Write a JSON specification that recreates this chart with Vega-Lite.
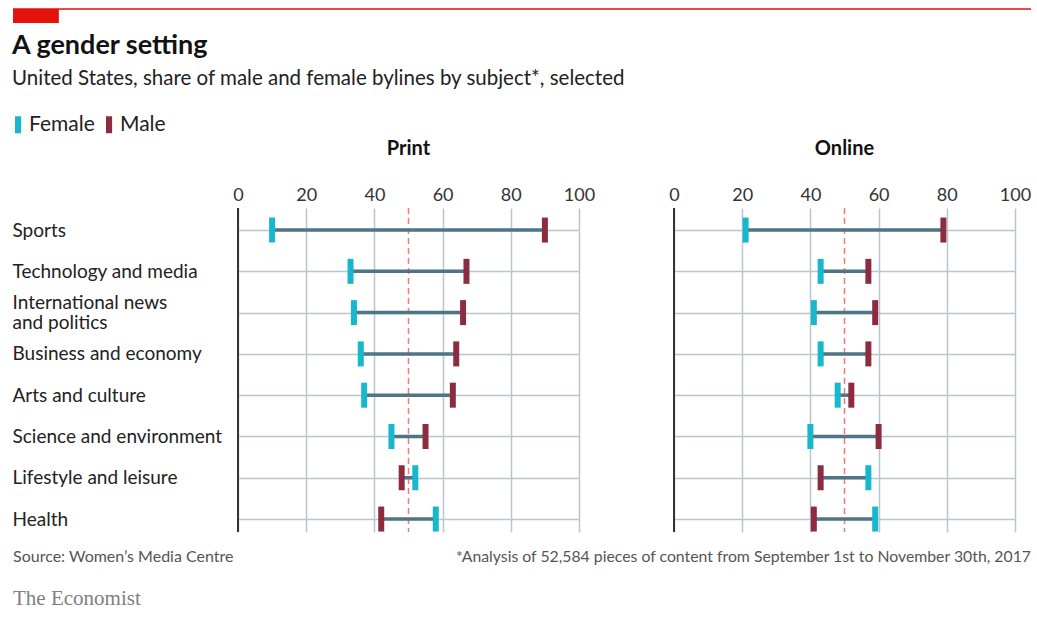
{
  "$schema": "https://vega.github.io/schema/vega-lite/v6.json",
  "background": "white",
  "padding": {"left": 12, "top": 8, "right": 7, "bottom": 5},
  "spacing": 8,
  "config": {
    "view": {"stroke": null},
    "font": "Lato",
    "axisX": {"domain": false, "ticks": false, "labelFontSize": 18, "labelColor": "#333333", "labelFont": "Lato", "labelPadding": 3, "labelFlush": false, "grid": true, "gridColor": "#b6c7d1", "gridWidth": 1.5},
    "axisY": {"domain": false, "ticks": false, "labelFontSize": 19, "labelColor": "#222222", "labelFont": "Lato", "labelAlign": "left", "labelPadding": 225, "labelLimit": 0, "labelLineHeight": 20, "grid": true, "gridColor": "#b6c7d1", "gridWidth": 1.5}
  },
  "vconcat": [
    {
      "width": 793,
      "height": 14,
      "data": {"values": [{}]},
      "layer": [
        {
          "mark": {"type": "rect", "color": "#e3120b"},
          "encoding": {
            "x": {"datum": 0, "type": "quantitative", "scale": {"domain": [22.1, 100], "nice": false, "zero": false}, "axis": null},
            "x2": {"datum": 4.5},
            "y": {"datum": 0, "type": "quantitative", "scale": {"domain": [0, 1]}, "axis": null},
            "y2": {"datum": 1}
          }
        },
        {
          "mark": {"type": "rule", "color": "#e3120b", "strokeWidth": 1.5},
          "encoding": {
            "x": {"datum": 0, "type": "quantitative"},
            "x2": {"datum": 100},
            "y": {"datum": 1, "type": "quantitative"}
          }
        }
      ]
    },
    {
      "title": {
        "text": "A gender setting",
        "subtitle": "United States, share of male and female bylines by subject*, selected",
        "anchor": "start",
        "frame": "bounds",
        "font": "Lato",
        "fontSize": 27,
        "fontWeight": "bold",
        "color": "#121212",
        "subtitleFont": "Lato",
        "subtitleFontSize": 20.5,
        "subtitleColor": "#222222",
        "subtitlePadding": 9,
        "offset": 49
      },
      "data": {
        "values": [
          {"medium": "Print", "subject": "Sports", "Female": 10, "Male": 90},
          {"medium": "Print", "subject": "Technology and media", "Female": 33, "Male": 67},
          {"medium": "Print", "subject": "International news and politics", "Female": 34, "Male": 66},
          {"medium": "Print", "subject": "Business and economy", "Female": 36, "Male": 64},
          {"medium": "Print", "subject": "Arts and culture", "Female": 37, "Male": 63},
          {"medium": "Print", "subject": "Science and environment", "Female": 45, "Male": 55},
          {"medium": "Print", "subject": "Lifestyle and leisure", "Female": 52, "Male": 48},
          {"medium": "Print", "subject": "Health", "Female": 58, "Male": 42},
          {"medium": "Online", "subject": "Sports", "Female": 21, "Male": 79},
          {"medium": "Online", "subject": "Technology and media", "Female": 43, "Male": 57},
          {"medium": "Online", "subject": "International news and politics", "Female": 41, "Male": 59},
          {"medium": "Online", "subject": "Business and economy", "Female": 43, "Male": 57},
          {"medium": "Online", "subject": "Arts and culture", "Female": 48, "Male": 52},
          {"medium": "Online", "subject": "Science and environment", "Female": 40, "Male": 60},
          {"medium": "Online", "subject": "Lifestyle and leisure", "Female": 57, "Male": 43},
          {"medium": "Online", "subject": "Health", "Female": 59, "Male": 41}
        ]
      },
      "facet": {
        "column": {
          "field": "medium",
          "type": "nominal",
          "sort": ["Print", "Online"],
          "header": {"title": null, "labelFont": "Lato", "labelFontSize": 20, "labelFontWeight": "bold", "labelColor": "#121212", "labelPadding": 27}
        }
      },
      "spacing": {"column": 94},
      "spec": {
        "width": 341,
        "height": 324,
        "layer": [
          {
            "transform": [{"aggregate": [{"op": "count", "as": "n"}], "groupby": ["medium"]}],
            "mark": {"type": "rule", "color": "#ef7b74", "strokeWidth": 1.5, "strokeDash": [6, 4]},
            "encoding": {
              "x": {"datum": 50, "type": "quantitative", "scale": {"domain": [0, 100]}, "axis": {"orient": "top", "values": [0, 20, 40, 60, 80, 100], "title": null}}
            }
          },
          {
            "transform": [{"aggregate": [{"op": "count", "as": "n"}], "groupby": ["medium"]}],
            "mark": {"type": "rule", "color": "#333333", "strokeWidth": 2},
            "encoding": {
              "x": {"datum": 0, "type": "quantitative", "axis": {"orient": "top", "values": [0, 20, 40, 60, 80, 100], "title": null}}
            }
          },
          {
            "mark": {"type": "rule", "color": "#4f7485", "strokeWidth": 3.5},
            "encoding": {
              "x": {"field": "Female", "type": "quantitative", "axis": {"orient": "top", "values": [0, 20, 40, 60, 80, 100], "title": null}},
              "x2": {"field": "Male"},
              "y": {
                "field": "subject",
                "type": "nominal",
                "sort": ["Sports", "Technology and media", "International news and politics", "Business and economy", "Arts and culture", "Science and environment", "Lifestyle and leisure", "Health"],
                "scale": {"type": "point", "padding": 0.424, "align": 0.63},
                "axis": {"title": null, "labelExpr": "datum.value == 'International news and politics' ? ['International news', 'and politics'] : datum.value", "labelOffset": {"condition": {"test": "datum.value == 'International news and politics'", "value": -10}, "value": 0}}
              }
            }
          },
          {
            "transform": [{"fold": ["Female", "Male"], "as": ["gender", "share"]}],
            "mark": {"type": "tick", "thickness": 6, "size": 25, "orient": "vertical", "opacity": 1},
            "encoding": {
              "x": {"field": "share", "type": "quantitative", "axis": {"orient": "top", "values": [0, 20, 40, 60, 80, 100], "title": null}},
              "y": {
                "field": "subject",
                "type": "nominal",
                "sort": ["Sports", "Technology and media", "International news and politics", "Business and economy", "Arts and culture", "Science and environment", "Lifestyle and leisure", "Health"],
                "scale": {"type": "point", "padding": 0.424, "align": 0.63},
                "axis": {"title": null, "labelExpr": "datum.value == 'International news and politics' ? ['International news', 'and politics'] : datum.value", "labelOffset": {"condition": {"test": "datum.value == 'International news and politics'", "value": -10}, "value": 0}}
              },
              "color": {
                "field": "gender",
                "type": "nominal",
                "scale": {"domain": ["Female", "Male"], "range": ["#17b7cd", "#8e2c3f"]},
                "legend": {
                  "title": null,
                  "orient": "none",
                  "legendX": -225,
                  "legendY": 105,
                  "padding": 0,
                  "direction": "horizontal",
                  "symbolType": "M-1,-1H-0.28V1H-1Z",
                  "symbolSize": 289,
                  "symbolStrokeWidth": 0,
                  "symbolOpacity": 1,
                  "labelFont": "Lato",
                  "labelFontSize": 21,
                  "labelColor": "#222222",
                  "labelOffset": -5,
                  "columnPadding": 9
                }
              }
            }
          }
        ]
      }
    },
    {
      "width": 793,
      "height": 58,
      "data": {"values": [{}]},
      "layer": [
        {
          "mark": {"type": "text", "text": "Source: Women’s Media Centre", "align": "left", "baseline": "middle", "font": "Lato", "fontSize": 16, "color": "#555555"},
          "encoding": {
            "x": {"datum": 0, "type": "quantitative", "scale": {"domain": [0.221, 1], "nice": false, "zero": false}, "axis": null},
            "y": {"datum": 0.72, "type": "quantitative", "scale": {"domain": [0, 1]}, "axis": null}
          }
        },
        {
          "mark": {"type": "text", "text": "*Analysis of 52,584 pieces of content from September 1st to November 30th, 2017", "align": "right", "baseline": "middle", "font": "Lato", "fontSize": 15.8, "color": "#555555"},
          "encoding": {
            "x": {"datum": 1, "type": "quantitative"},
            "y": {"datum": 0.72, "type": "quantitative"}
          }
        },
        {
          "mark": {"type": "text", "text": "The Economist", "align": "left", "baseline": "middle", "font": "Liberation Serif", "fontSize": 21, "color": "#808080"},
          "encoding": {
            "x": {"datum": 0, "type": "quantitative"},
            "y": {"datum": 0, "type": "quantitative"}
          }
        }
      ]
    }
  ]
}
